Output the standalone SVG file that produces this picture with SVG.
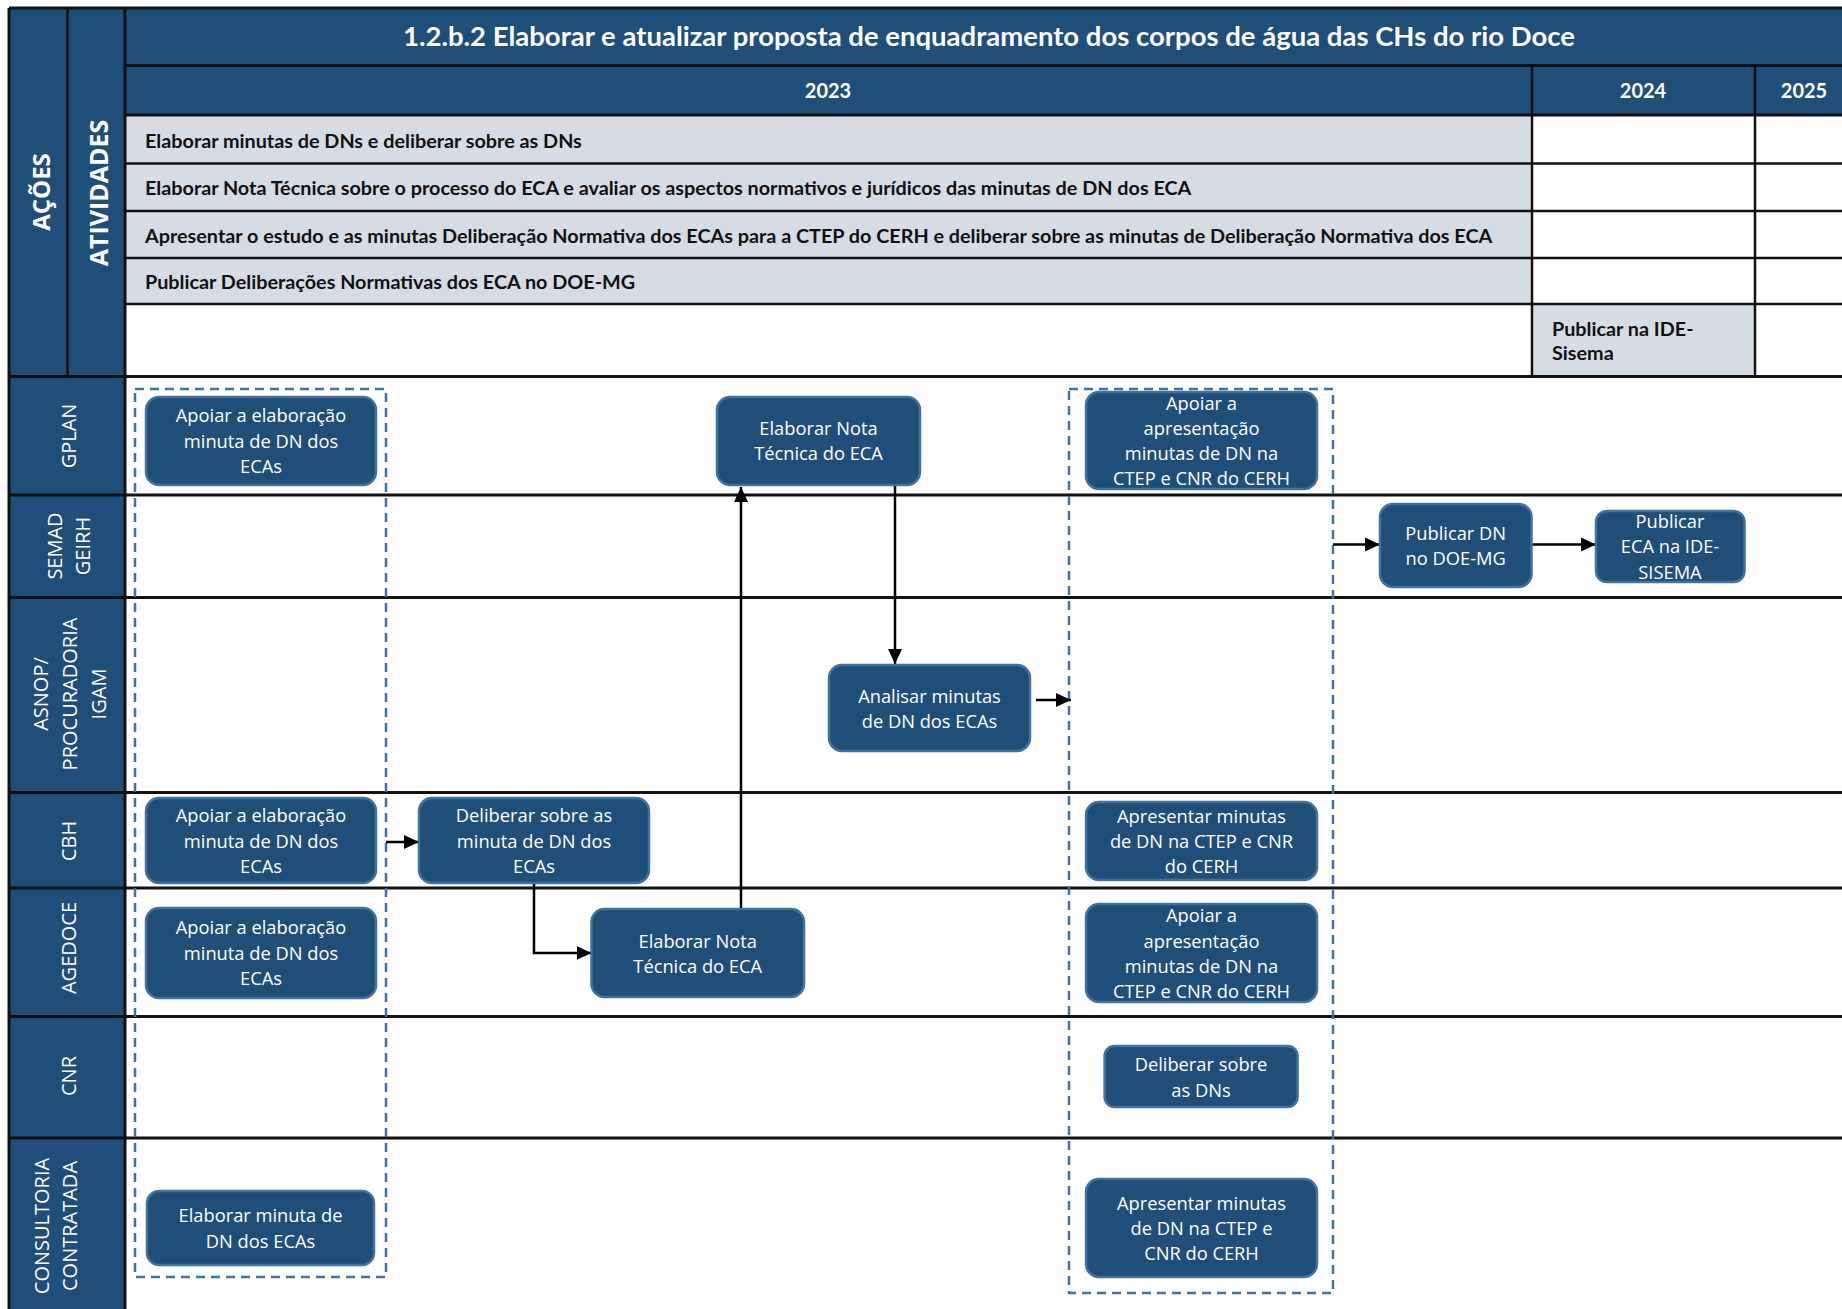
<svg xmlns="http://www.w3.org/2000/svg" width="1842" height="1309" viewBox="0 0 1842 1309">
<defs>
<style>
.dk{fill:#1F4E79}
.act{fill:#D6DCE4}
.ln{stroke:#111;stroke-width:3;fill:none}
.ln2{stroke:#111;stroke-width:2.5;fill:none}
.ttl{font-family:Lato,"Liberation Sans",sans-serif;font-weight:700;fill:#fff}
.acttx{font-family:Lato,"Liberation Sans",sans-serif;font-weight:700;font-size:19.8px;fill:#111;dominant-baseline:central}
.lane{font-family:"Open Sans","DejaVu Sans",sans-serif;font-size:20px;fill:#fff;text-anchor:middle;dominant-baseline:central}
.head{font-family:"Open Sans","DejaVu Sans",sans-serif;font-weight:700;fill:#fff;text-anchor:middle;dominant-baseline:central}
.node rect{fill:#1F4E79;stroke:#41719C;stroke-width:2.5}
.node text{font-family:"Open Sans","DejaVu Sans",sans-serif;font-size:18.3px;fill:#fff;text-anchor:middle;dominant-baseline:central}
.dash{fill:none;stroke:#41719C;stroke-width:2.5;stroke-dasharray:9 6}
.conn path{fill:none;stroke:#000;stroke-width:2.5}
</style>
<marker id="ah" viewBox="0 0 15 14" refX="15" refY="7" markerWidth="15" markerHeight="14" markerUnits="userSpaceOnUse" orient="auto">
<path d="M0,0 L15,7 L0,14 Z" fill="#000"/>
</marker>
</defs>

<rect x="0" y="0" width="1842" height="1309" fill="#fff"/>

<g id="header">
<rect class="dk" x="9" y="8" width="1833" height="107"/>
<rect class="dk" x="9" y="8" width="116" height="1301"/>
<rect class="act" x="125" y="115" width="1407" height="189"/>
<rect class="act" x="1532" y="304" width="223" height="72"/>
<text class="ttl" x="989" y="35" font-size="27.5" text-anchor="middle" dominant-baseline="central">1.2.b.2 Elaborar e atualizar proposta de enquadramento dos corpos de água das CHs do rio Doce</text>
<text class="ttl" x="828" y="90" font-size="20" text-anchor="middle" dominant-baseline="central">2023</text>
<text class="ttl" x="1643" y="90" font-size="20" text-anchor="middle" dominant-baseline="central">2024</text>
<text class="ttl" x="1804" y="90" font-size="20" text-anchor="middle" dominant-baseline="central">2025</text>
<text class="acttx" x="145" y="140.3">Elaborar minutas de DNs e deliberar sobre as DNs</text>
<text class="acttx" x="145" y="187">Elaborar Nota Técnica sobre o processo do ECA e avaliar os aspectos normativos e jurídicos das minutas de DN dos ECA</text>
<text class="acttx" x="145" y="235.3">Apresentar o estudo e as minutas Deliberação Normativa dos ECAs para a CTEP do CERH e deliberar sobre as minutas de Deliberação Normativa dos ECA</text>
<text class="acttx" x="145" y="281.3">Publicar Deliberações Normativas dos ECA no DOE-MG</text>
<text class="acttx" x="1552"><tspan x="1552" y="328">Publicar na IDE-</tspan><tspan x="1552" y="352">Sisema</tspan></text>
<text class="head" font-size="24" transform="translate(40,192) rotate(-90)">AÇÕES</text>
<text class="head" font-size="25" transform="translate(98,193) rotate(-90)">ATIVIDADES</text>
<path class="ln" d="M125,65.5 H1842 M125,115 H1842 M9,376.5 H1842"/>
<path class="ln2" d="M125,163.5 H1842 M125,211 H1842 M125,258 H1842 M125,304 H1842"/>
<path class="ln2" d="M67.5,8 V376.5 M1532,65.5 V376.5 M1755,65.5 V376.5"/>
</g>

<g id="lanes">
<path class="ln" d="M9,495 H1842 M9,597.5 H1842 M9,792.5 H1842 M9,888 H1842 M9,1016.5 H1842 M9,1138 H1842"/>
<path class="ln" d="M125,8 V1309 M9,8 V1309 M9,8 H1842"/>
<text class="lane" transform="translate(68,436) rotate(-90)">GPLAN</text>
<text class="lane" transform="translate(68,546) rotate(-90)"><tspan x="0" y="-14">SEMAD</tspan><tspan x="0" y="14">GEIRH</tspan></text>
<text class="lane" transform="translate(69,694) rotate(-90)"><tspan x="0" y="-29">ASNOP/</tspan><tspan x="0" y="0">PROCURADORIA</tspan><tspan x="0" y="28.5">IGAM</tspan></text>
<text class="lane" transform="translate(68,841) rotate(-90)">CBH</text>
<text class="lane" transform="translate(68,948) rotate(-90)">AGEDOCE</text>
<text class="lane" transform="translate(68,1076) rotate(-90)">CNR</text>
<text class="lane" font-size="19.3" transform="translate(55,1226) rotate(-90)"><tspan x="0" y="-14">CONSULTORIA</tspan><tspan x="0" y="14">CONTRATADA</tspan></text>
</g>

<g id="groups">
<rect class="dash" x="135" y="389" width="251" height="888"/>
<rect class="dash" x="1069" y="389" width="264" height="904"/>
</g>

<g id="connectors" class="conn">
<path d="M386,842 H419" marker-end="url(#ah)"/>
<path d="M534,883 V953 H591.5" marker-end="url(#ah)"/>
<path d="M741,909 V487" marker-end="url(#ah)"/>
<path d="M895,485 V664" marker-end="url(#ah)"/>
<path d="M1036,700 H1071" marker-end="url(#ah)"/>
<path d="M1333,544.5 H1380" marker-end="url(#ah)"/>
<path d="M1531.5,544.5 H1596" marker-end="url(#ah)"/>
</g>

<g id="n1" class="node"><rect x="146" y="397" width="230" height="88" rx="13"/><text><tspan x="261" y="413.7">Apoiar a elaboração</tspan><tspan x="261" y="439.5">minuta de DN dos</tspan><tspan x="261" y="465.3">ECAs</tspan></text></g>
<g id="n2" class="node"><rect x="717" y="397" width="203" height="88" rx="13"/><text><tspan x="818.5" y="427">Elaborar Nota</tspan><tspan x="818.5" y="452.3">Técnica do ECA</tspan></text></g>
<g id="n3" class="node"><rect x="1086" y="392" width="231" height="97" rx="13"/><text><tspan x="1201.5" y="402">Apoiar a</tspan><tspan x="1201.5" y="427">apresentação</tspan><tspan x="1201.5" y="452.3">minutas de DN na</tspan><tspan x="1201.5" y="477.3">CTEP e CNR do CERH</tspan></text></g>
<g id="n4" class="node"><rect x="1380" y="504" width="151.5" height="83" rx="13"/><text><tspan x="1455.7" y="532">Publicar DN</tspan><tspan x="1455.7" y="557">no DOE-MG</tspan></text></g>
<g id="n5" class="node"><rect x="1596" y="511" width="148.5" height="71" rx="11"/><text><tspan x="1670" y="520">Publicar</tspan><tspan x="1670" y="545.3">ECA na IDE-</tspan><tspan x="1670" y="570.7">SISEMA</tspan></text></g>
<g id="n6" class="node"><rect x="829" y="665" width="201" height="86" rx="13"/><text><tspan x="929.5" y="694.7">Analisar minutas</tspan><tspan x="929.5" y="719.7">de DN dos ECAs</tspan></text></g>
<g id="n7" class="node"><rect x="146" y="798" width="230" height="85" rx="13"/><text><tspan x="261" y="814">Apoiar a elaboração</tspan><tspan x="261" y="839.7">minuta de DN dos</tspan><tspan x="261" y="865.3">ECAs</tspan></text></g>
<g id="n8" class="node"><rect x="419" y="798" width="230" height="85" rx="13"/><text><tspan x="534" y="814">Deliberar sobre as</tspan><tspan x="534" y="839.7">minuta de DN dos</tspan><tspan x="534" y="865.3">ECAs</tspan></text></g>
<g id="n9" class="node"><rect x="1086" y="802" width="231" height="78" rx="13"/><text><tspan x="1201.5" y="814.7">Apresentar minutas</tspan><tspan x="1201.5" y="839.7">de DN na CTEP e CNR</tspan><tspan x="1201.5" y="865.3">do CERH</tspan></text></g>
<g id="n10" class="node"><rect x="146" y="908" width="230" height="90" rx="13"/><text><tspan x="261" y="926.3">Apoiar a elaboração</tspan><tspan x="261" y="952">minuta de DN dos</tspan><tspan x="261" y="977.3">ECAs</tspan></text></g>
<g id="n11" class="node"><rect x="591.5" y="909" width="212.5" height="88" rx="13"/><text><tspan x="697.7" y="939.7">Elaborar Nota</tspan><tspan x="697.7" y="964.7">Técnica do ECA</tspan></text></g>
<g id="n12" class="node"><rect x="1086" y="904" width="231" height="98" rx="13"/><text><tspan x="1201.5" y="914">Apoiar a</tspan><tspan x="1201.5" y="939.7">apresentação</tspan><tspan x="1201.5" y="964.7">minutas de DN na</tspan><tspan x="1201.5" y="990.3">CTEP e CNR do CERH</tspan></text></g>
<g id="n13" class="node"><rect x="1104.6" y="1046" width="193" height="61" rx="10"/><text><tspan x="1201" y="1063">Deliberar sobre</tspan><tspan x="1201" y="1088.7">as DNs</tspan></text></g>
<g id="n14" class="node"><rect x="147" y="1191" width="227" height="74" rx="12"/><text><tspan x="260.5" y="1214">Elaborar minuta de</tspan><tspan x="260.5" y="1239.7">DN dos ECAs</tspan></text></g>
<g id="n15" class="node"><rect x="1086" y="1179" width="231" height="98" rx="13"/><text><tspan x="1201.5" y="1202">Apresentar minutas</tspan><tspan x="1201.5" y="1227">de DN na CTEP e</tspan><tspan x="1201.5" y="1252">CNR do CERH</tspan></text></g>
</svg>
